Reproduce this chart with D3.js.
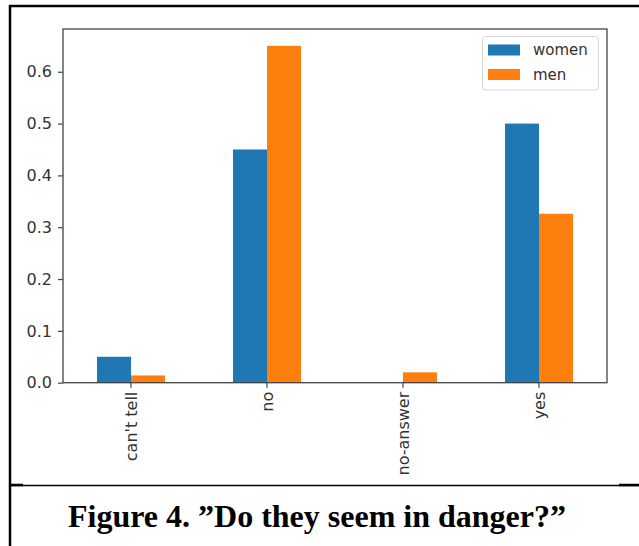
<!DOCTYPE html>
<html>
<head>
<meta charset="utf-8">
<script src="https://cdn.jsdelivr.net/npm/d3@7.9.0/dist/d3.min.js"></script>
<style>
  body { margin: 0; background: #fff; }
  svg { display: block; }
</style>
</head>
<body>
<svg id="chart" width="639" height="546"></svg>
<script>
// chart data
const categories = ["can't tell", "no", "no-answer", "yes"];
const seriesNames = ["women", "men"];
const women = [0.05, 0.45, 0, 0.5];
const men = [0.014, 0.65, 0.02, 0.326];
const yTicks = [0.0, 0.1, 0.2, 0.3, 0.4, 0.5, 0.6];
const colors = ["#1f77b4", "#ff7f0e"];
const caption = "Figure 4. \u201DDo they seem in danger?\u201D";

const svg = d3.select("#chart");
const labelFont = "'DejaVu Sans', sans-serif";

// page frame around figure + caption
svg.append("line").attr("x1", 9).attr("x2", 639).attr("y1", 6).attr("y2", 6)
    .attr("stroke", "#000").attr("stroke-width", 2.5);
svg.append("line").attr("x1", 10).attr("x2", 10).attr("y1", 5).attr("y2", 546)
    .attr("stroke", "#000").attr("stroke-width", 2.5);
svg.append("line").attr("x1", 10).attr("x2", 639).attr("y1", 485.5).attr("y2", 485.5)
    .attr("stroke", "#000").attr("stroke-width", 1.5);
svg.append("line").attr("x1", 10).attr("x2", 23).attr("y1", 485).attr("y2", 485)
    .attr("stroke", "#000").attr("stroke-width", 2.5);
svg.append("line").attr("x1", 619).attr("x2", 639).attr("y1", 485).attr("y2", 485)
    .attr("stroke", "#000").attr("stroke-width", 2.5);

// plot area
const plotLeft = 63, plotRight = 607, plotTop = 29, plotBottom = 382.7;

const x = d3.scaleBand().domain(categories).range([plotLeft, plotRight]).padding(0);
const xs = d3.scaleBand().domain(seriesNames)
    .range([x.bandwidth() * 0.25, x.bandwidth() * 0.75]).padding(0);
const yMax = d3.max(women.concat(men)) * 1.05;
const y = d3.scaleLinear().domain([0, yMax]).range([plotBottom, plotTop]);

const data = categories.map((c, i) => ({ cat: c, values: [women[i], men[i]] }));

const groups = svg.append("g").selectAll("g")
    .data(data)
    .enter()
    .append("g")
    .attr("transform", d => `translate(${x(d.cat)},0)`);

groups.selectAll("rect")
    .data(d => d.values.map((v, j) => ({ name: seriesNames[j], value: v, j: j })))
    .enter()
    .append("rect")
    .attr("x", d => xs(d.name))
    .attr("width", xs.bandwidth())
    .attr("y", d => y(d.value))
    .attr("height", d => plotBottom - y(d.value))
    .attr("fill", d => colors[d.j]);

// axes
const axisColor = "#444";
const yAxis = svg.append("g")
    .attr("transform", `translate(${plotLeft},0)`)
    .call(d3.axisLeft(y).tickValues(yTicks).tickFormat(d3.format(".1f"))
        .tickSize(5).tickPadding(6).tickSizeOuter(0));

const xAxis = svg.append("g")
    .attr("transform", `translate(0,${plotBottom})`)
    .call(d3.axisBottom(x).tickSize(5).tickSizeOuter(0));

xAxis.selectAll("text")
    .attr("transform", "rotate(-90)")
    .attr("x", -9)
    .attr("y", 0)
    .attr("dy", "0.35em")
    .attr("text-anchor", "end");

[xAxis, yAxis].forEach(ax => {
    ax.select(".domain").remove();
    ax.selectAll("line").attr("stroke", axisColor).attr("stroke-width", 1.2);
    ax.selectAll("text")
        .attr("fill", "#333")
        .style("font-family", labelFont)
        .style("font-size", "16px");
});

// axes frame (spines)
svg.append("rect")
    .attr("x", plotLeft).attr("y", plotTop)
    .attr("width", plotRight - plotLeft).attr("height", plotBottom - plotTop)
    .attr("fill", "none").attr("stroke", axisColor).attr("stroke-width", 1.3);

// legend
const legend = svg.append("g");
legend.append("rect")
    .attr("x", 482.5).attr("y", 36.5).attr("width", 116).attr("height", 53.5)
    .attr("rx", 3)
    .attr("fill", "#fff").attr("fill-opacity", 0.8)
    .attr("stroke", "#d6d6d6").attr("stroke-width", 1);

seriesNames.forEach((name, i) => {
    legend.append("rect")
        .attr("x", 488).attr("y", 44.5 + i * 24.5)
        .attr("width", 32).attr("height", 11)
        .attr("fill", colors[i]);
    legend.append("text")
        .attr("x", 533).attr("y", 50 + i * 24.5)
        .attr("dy", "0.35em")
        .attr("fill", "#333")
        .style("font-family", labelFont)
        .style("font-size", "15px")
        .text(name);
});

// caption
svg.append("text")
    .attr("x", 317).attr("y", 527)
    .attr("text-anchor", "middle")
    .style("font-family", "Georgia, 'Liberation Serif', serif")
    .style("font-weight", "bold")
    .style("font-size", "32px")
    .attr("fill", "#000")
    .text(caption);
</script>
</body>
</html>
